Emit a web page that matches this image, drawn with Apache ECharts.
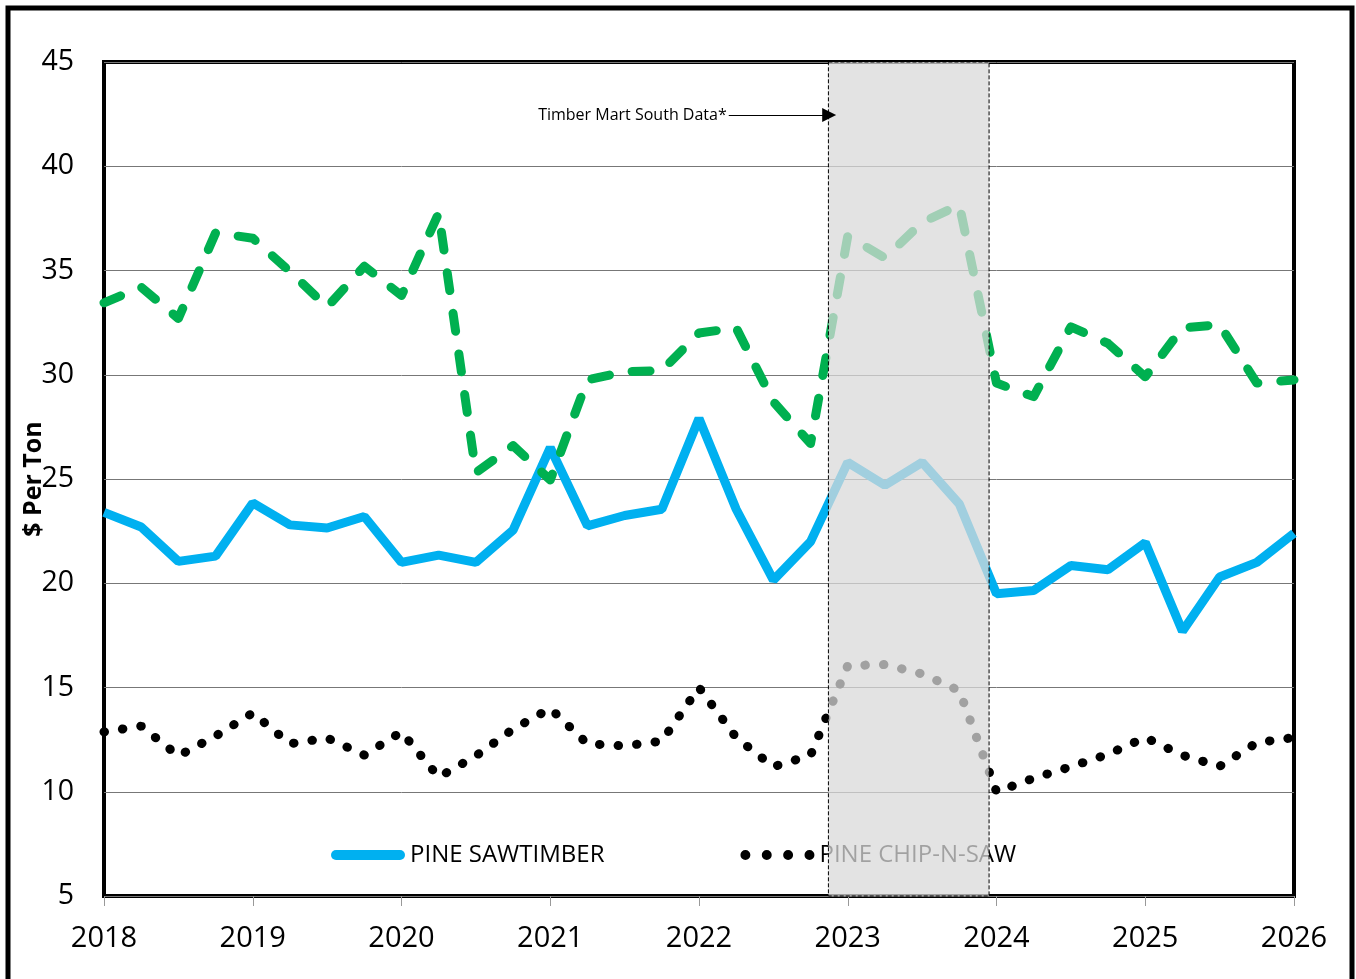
<!DOCTYPE html>
<html>
<head>
<meta charset="utf-8">
<title>Pine stumpage prices</title>
<script src="https://cdn.jsdelivr.net/npm/echarts@6/dist/echarts.min.js"></script>
<style>
html, body { margin: 0; padding: 0; background: #fff; }
#chart { width: 1356px; height: 979px; }
</style>
</head>
<body>
<div id="chart"></div>
<script>
// quarters on the x axis
var quarters = [2018, 2018.25, 2018.5, 2018.75, 2019, 2019.25, 2019.5, 2019.75,
	2020, 2020.25, 2020.5, 2020.75, 2021, 2021.25, 2021.5, 2021.75,
	2022, 2022.25, 2022.5, 2022.75, 2023, 2023.25, 2023.5, 2023.75,
	2024, 2024.25, 2024.5, 2024.75, 2025, 2025.25, 2025.5, 2025.75, 2026];

// $ per ton
var sawtimber = [23.4, 22.7, 21.05, 21.3, 23.85, 22.8, 22.65, 23.2,
	21.0, 21.35, 21.0, 22.55, 26.5, 22.75, 23.25, 23.55,
	27.9, 23.55, 20.15, 22.0, 25.8, 24.7, 25.8, 23.8,
	19.5, 19.65, 20.85, 20.65, 21.95, 17.7, 20.3, 21.0, 22.4];

var chipNSaw = [12.87, 13.15, 11.72, 12.67, 13.78, 12.3, 12.58, 11.76,
	12.87, 10.7, 11.72, 13.0, 14.0, 12.3, 12.2, 12.43,
	15.0, 12.6, 11.2, 11.75, 16.05, 16.1, 15.65, 14.85,
	10.0, 10.65, 11.2, 11.8, 12.6, 11.75, 11.22, 12.35, 12.6];

var greenSeries = [33.45, 34.2, 32.7, 36.8, 36.55, 34.95, 33.25, 35.2,
	33.8, 37.75, 25.3, 26.6, 24.95, 29.75, 30.15, 30.2,
	32.0, 32.25, 28.7, 26.7, 36.65, 35.6, 37.3, 38.15,
	29.6, 28.95, 32.3, 31.5, 29.9, 32.25, 32.4, 29.6, 29.75];

// Timber Mart South shaded period
var tmsStart = 2022.87;
var tmsEnd = 2023.95;

function pairs(ys) {
	var out = [];
	for (var i = 0; i < quarters.length; i++) {
		out.push([quarters[i], ys[i]]);
	}
	return out;
}

var font = '"Open Sans", "Noto Sans", sans-serif';

var myChart = echarts.init(document.getElementById('chart'));
var option = {
	animation: false,
	backgroundColor: '#fff',
	textStyle: { fontFamily: font },
	graphic: [{
		type: 'rect',
		shape: { x: 8, y: 8, width: 1344, height: 1100 },
		style: { fill: 'none', stroke: '#000', lineWidth: 5 }
	}],
	grid: {
		left: 104, top: 62, width: 1190, height: 834,
		outerBoundsMode: 'none',
		show: true, borderColor: '#000', borderWidth: 4
	},
	legend: {
		left: 331, top: 843,
		padding: 0,
		itemWidth: 74, itemHeight: 10, itemGap: 136,
		selectedMode: false,
		itemStyle: { borderWidth: 0 },
		textStyle: { fontSize: 24, color: '#000', fontFamily: font },
		data: [
			{ name: 'PINE SAWTIMBER', icon: 'path://M5,0 L69,0 A5,5 0 0 1 69,10 L5,10 A5,5 0 0 1 5,0 Z' },
			{ name: 'PINE CHIP-N-SAW', icon: 'path://M0,5 A5,5 0 1 1 10,5 A5,5 0 1 1 0,5 Z M21.5,5 A5,5 0 1 1 31.5,5 A5,5 0 1 1 21.5,5 Z M43,5 A5,5 0 1 1 53,5 A5,5 0 1 1 43,5 Z M64.5,5 A5,5 0 1 1 74.5,5 A5,5 0 1 1 64.5,5 Z' }
		]
	},
	xAxis: {
		type: 'value',
		min: 2018, max: 2026, interval: 1,
		axisLine: { show: false },
		axisTick: { show: true, length: 10, lineStyle: { color: '#999', width: 1 } },
		splitLine: { show: false },
		axisLabel: {
			fontSize: 29, color: '#000', margin: 28, fontFamily: font,
			formatter: function (v) { return String(v); }
		}
	},
	yAxis: {
		type: 'value',
		min: 5, max: 45, interval: 5,
		name: '$ Per Ton',
		nameLocation: 'middle',
		nameGap: 58,
		nameMoveOverlap: false,
		nameTextStyle: { fontSize: 25, fontWeight: 'bold', color: '#000', fontFamily: font },
		axisLine: { show: false },
		axisTick: { show: false },
		splitLine: { show: true, lineStyle: { color: '#777', width: 1 } },
		axisLabel: { fontSize: 28.5, color: '#000', margin: 30, fontFamily: font }
	},
	series: [
		{
			name: 'PINE SAWTIMBER',
			type: 'line',
			symbol: 'none',
			color: '#00b0f0',
			lineStyle: { color: '#00b0f0', width: 9 },
			data: pairs(sawtimber)
		},
		{
			name: 'PINE CHIP-N-SAW',
			type: 'line',
			symbol: 'none',
			color: '#000',
			lineStyle: { color: '#000', width: 9, type: [0.5, 18.1], cap: 'round' },
			data: pairs(chipNSaw)
		},
		{
			name: 'PINE PULPWOOD',
			type: 'line',
			symbol: 'none',
			color: '#00b050',
			lineStyle: { color: '#00b050', width: 9, type: [18, 23], cap: 'round', join: 'round' },
			data: pairs(greenSeries),
			markArea: {
				z: 10,
				silent: true,
				label: { show: false },
				itemStyle: {
					color: 'rgba(217,217,217,0.74)',
					borderColor: '#000', borderWidth: 1, borderType: 'dashed'
				},
				data: [[{ xAxis: tmsStart, yAxis: 45 }, { xAxis: tmsEnd, yAxis: 5 }]]
			},
			markLine: {
				z: 12,
				silent: true,
				symbol: ['none', 'triangle'],
				symbolSize: [14, 14],
				lineStyle: { color: '#000', width: 1, type: 'solid' },
				label: {
					show: true, position: 'start', distance: 2,
					formatter: 'Timber Mart South Data*',
					color: '#000', fontSize: 16, fontFamily: font
				},
				data: [[{ coord: [2022.2, 42.46] }, { coord: [2022.875, 42.46] }]]
			}
		}
	]
};

// 将配置应用到图表上
myChart.setOption(option);
</script>
</body>
</html>
